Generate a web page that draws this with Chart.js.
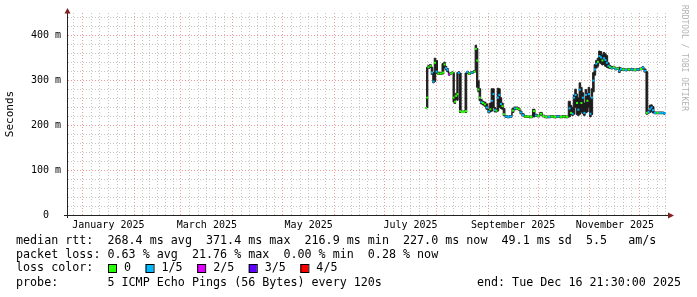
<!DOCTYPE html>
<html lang="en">
<head>
<meta charset="UTF-8">
<title>Median RTT</title>
<script src="https://cdn.jsdelivr.net/npm/chart.js@4.4.1/dist/chart.umd.min.js"></script>
<style>
  html, body { margin: 0; padding: 0; background: #fff; }
  canvas { display: block; }
</style>
</head>
<body>
<canvas id="rtt" width="697" height="297"></canvas>
<script>
// x values are days since 2025-01-01, y values in ms
const day = [205.8, 206.5, 207.3, 208.5, 209.4, 210.3, 211.2, 212.1, 213.3, 214.8,
  216.0, 216.9, 217.8, 218.7, 219.7, 220.8, 221.7, 222.3, 223.2, 223.9,
  224.7, 225.4, 226.3, 227.4, 228.6, 229.8, 230.6, 231.8, 233.3, 234.8,
  235.7, 236.5, 237.2, 238.1, 239.0, 239.9, 241.1, 242.3, 243.5, 244.4,
  245.3, 246.2, 247.1, 248.0, 248.9, 249.8, 250.7, 251.6, 252.5, 253.7,
  255.2, 256.7, 257.9, 259.1, 260.3, 261.5, 262.7, 263.9, 265.4, 266.9,
  268.7, 270.5, 271.7, 273.2, 274.7, 276.2, 277.7, 279.5, 281.3, 283.1,
  284.9, 286.7, 288.5, 290.3, 291.8, 292.7, 293.6, 294.5, 295.4, 296.3,
  297.1, 298.0, 298.9, 299.8, 300.7, 301.6, 302.5, 303.4, 304.3, 305.2,
  306.1, 307.0, 307.9, 308.8, 309.7, 310.6, 311.5, 312.4, 313.3, 314.2,
  315.1, 316.0, 317.2, 318.4, 319.6, 320.8, 321.7, 322.6, 324.1, 325.6,
  327.4, 329.2, 331.0, 332.8, 334.6, 335.8, 337.0, 338.2, 339.1, 340.0,
  340.9, 341.8, 343.0, 344.5, 346.0, 347.5, 349.0];

const median = [239, 262, 330, 333, 318, 298, 340, 320, 316, 316,
  318, 336, 328, 324, 314, 316, 318, 262, 253, 266,
  270, 317, 232, 230, 230, 232, 319, 316, 318, 320,
  371, 345, 280, 262, 252, 250, 247, 240, 231, 236,
  255, 270, 234, 233, 262, 268, 248, 243, 225, 220,
  219, 220, 233, 238, 238, 236, 229, 223, 220, 220,
  219, 232, 222, 221, 226, 221, 219, 219, 220, 219,
  220, 219, 220, 219, 238, 228, 226, 262, 268, 250,
  235, 280, 250, 262, 228, 268, 255, 270, 226, 262,
  300, 325, 338, 342, 355, 352, 345, 350, 346, 340,
  333, 330, 328, 330, 326, 327, 322, 326, 325, 324,
  325, 325, 324, 325, 326, 329, 322, 228, 230, 236,
  240, 234, 228, 228, 228, 228, 227];

const low = [237, 240, 327, 329, 314, 295, 298, 316, 314, 314,
  315, 328, 324, 320, 312, 314, 316, 252, 249, 258,
  256, 314, 229, 229, 229, 229, 316, 314, 316, 318,
  322, 285, 275, 255, 248, 246, 243, 236, 228, 230,
  232, 240, 230, 230, 232, 240, 238, 236, 222, 218,
  217, 218, 229, 235, 236, 234, 226, 221, 218, 218,
  217, 219, 220, 219, 223, 219, 217, 217, 218, 217,
  218, 217, 218, 217, 219, 224, 222, 225, 240, 224,
  222, 225, 230, 226, 222, 228, 230, 240, 219, 224,
  275, 312, 328, 332, 340, 338, 335, 336, 332, 330,
  328, 327, 326, 328, 324, 325, 318, 323, 323, 322,
  323, 323, 322, 323, 324, 326, 319, 225, 227, 229,
  231, 228, 226, 226, 226, 226, 225];

const high = [241, 330, 334, 336, 330, 318, 350, 345, 319, 318,
  338, 341, 332, 327, 317, 318, 320, 318, 262, 272,
  318, 320, 317, 232, 232, 317, 321, 318, 320, 322,
  379, 372, 300, 282, 258, 254, 252, 248, 236, 250,
  282, 282, 240, 237, 283, 282, 262, 250, 238, 222,
  221, 222, 238, 241, 241, 239, 232, 226, 222, 221,
  221, 236, 225, 223, 229, 223, 221, 221, 222, 221,
  222, 221, 222, 221, 254, 245, 240, 268, 281, 270,
  262, 295, 285, 273, 250, 280, 272, 285, 262, 282,
  318, 336, 345, 350, 366, 365, 358, 363, 360, 356,
  340, 334, 331, 332, 328, 329, 330, 328, 327, 326,
  327, 327, 326, 327, 328, 331, 326, 320, 233, 245,
  246, 242, 230, 230, 230, 230, 229];

// lost pings out of 5 for each step
const loss = [0, 0, 0, 0, 1, 1, 0, 1, 0, 0,
  0, 0, 1, 1, 2, 0, 0, 0, 0, 0,
  0, 1, 0, 0, 0, 0, 1, 0, 1, 0,
  0, 0, 0, 0, 1, 0, 0, 1, 1, 0,
  1, 1, 1, 0, 1, 1, 1, 0, 0, 1,
  1, 1, 0, 1, 0, 0, 1, 1, 0, 0,
  0, 0, 1, 0, 0, 0, 0, 1, 0, 0,
  1, 0, 0, 0, 1, 0, 1, 1, 1, 0,
  1, 1, 0, 1, 1, 1, 0, 1, 1, 1,
  1, 1, 1, 0, 1, 1, 0, 1, 1, 1,
  1, 0, 1, 0, 1, 0, 1, 1, 0, 1,
  0, 1, 0, 1, 0, 1, 1, 0, 1, 1,
  1, 1, 1, 0, 1, 1, 1];

const lossLabels = ['0', '1/5', '2/5', '3/5', '4/5'];
const lossColors = ['#26ff00', '#00b8ff', '#e100ff', '#5e00ff', '#ff0000'];

// month starts (days since 2025-01-01) and names
const monthStarts = [-31, 0, 31, 59, 90, 120, 151, 181, 212, 243, 273, 304, 334, 365];
const monthNames = ['December 2024', 'January 2025', 'February 2025', 'March 2025', 'April 2025',
  'May 2025', 'June 2025', 'July 2025', 'August 2025', 'September 2025', 'October 2025',
  'November 2025', 'December 2025'];
const labelledMonths = ['January 2025', 'March 2025', 'May 2025', 'July 2025', 'September 2025', 'November 2025'];

const yLabelled = [0, 100, 200, 300, 400];
const yMinorStep = 20;
const yMax = 451;
const xMin = -9.3, xMax = 350.8;

const statLines = [
  'median rtt:  268.4 ms avg  371.4 ms max  216.9 ms min  227.0 ms now  49.1 ms sd  5.5   am/s',
  'packet loss: 0.63 % avg  21.76 % max  0.00 % min  0.28 % now'
];
const probeText = 'probe:       5 ICMP Echo Pings (56 Bytes) every 120s';
const endText = 'end: Tue Dec 16 21:30:00 2025';

// x grid: red at each month start, grey at sixths, label in the middle
const xTicks = [];
const xMajor = [];
const xLabels = {};
for (let i = 0; i < monthStarts.length - 1; i++) {
  const a = monthStarts[i], b = monthStarts[i + 1];
  for (let k = 0; k < 6; k++) {
    const v = a + k * (b - a) / 6;
    if (v <= xMin || v >= xMax) continue;
    xTicks.push(v);
    if (k === 0) xMajor.push(v);
    if (k === 3 && labelledMonths.includes(monthNames[i])) xLabels[v] = monthNames[i];
  }
}
const yTicks = [];
for (let v = 0; v < yMax; v += yMinorStep) yTicks.push(v);

const minorGrid = 'rgba(150,150,150,0.55)';
const majorGrid = 'rgba(235,80,80,0.6)';
const smoke = '#1c1c1c';
const mono = 'DejaVu Sans Mono';

const isMajorX = v => xMajor.some(m => Math.abs(m - v) < 1e-6);

const extras = {
  id: 'extras',
  afterDraw(chart) {
    const ctx = chart.ctx;
    const a = chart.chartArea;
    ctx.save();
    // axis stubs + arrows
    ctx.strokeStyle = '#222';
    ctx.lineWidth = 1;
    ctx.beginPath();
    ctx.moveTo(a.left + 0.5, a.bottom);
    ctx.lineTo(a.left + 0.5, a.bottom + 3);
    ctx.moveTo(a.left - 3, a.bottom + 0.5);
    ctx.lineTo(a.left, a.bottom + 0.5);
    ctx.stroke();
    ctx.fillStyle = '#7f1f1f';
    ctx.beginPath();
    ctx.moveTo(a.left - 2.5, a.top + 0.5);
    ctx.lineTo(a.left + 3.5, a.top + 0.5);
    ctx.lineTo(a.left + 0.5, a.top - 5);
    ctx.closePath();
    ctx.fill();
    ctx.beginPath();
    ctx.moveTo(a.right, a.bottom - 2.5);
    ctx.lineTo(a.right, a.bottom + 3.5);
    ctx.lineTo(a.right + 6, a.bottom + 0.5);
    ctx.closePath();
    ctx.fill();

    // watermark
    ctx.save();
    ctx.translate(684, 5);
    ctx.rotate(Math.PI / 2);
    ctx.font = '8px "' + mono + '"';
    ctx.fillStyle = '#b4b4b4';
    ctx.textBaseline = 'middle';
    ctx.fillText('RRDTOOL / TOBI OETIKER', 0, 0);
    ctx.restore();

    // legend text
    ctx.font = '11.7px "' + mono + '"';
    ctx.fillStyle = '#000';
    ctx.textBaseline = 'middle';
    ctx.fillText(statLines[0], 16, 241);
    ctx.fillText(statLines[1], 16, 255);
    ctx.fillText('loss color:', 16, 268);
    let bx = 108;
    lossLabels.forEach((lab, i) => {
      ctx.fillStyle = lossColors[i];
      ctx.fillRect(bx, 264, 8, 9);
      ctx.strokeStyle = '#000';
      ctx.strokeRect(bx + 0.5, 264.5, 8, 8);
      ctx.fillStyle = '#000';
      ctx.fillText(lab, bx + 16, 268);
      bx = bx + 16 + ctx.measureText(lab).width + 14.5;
    });
    ctx.fillText(probeText, 16, 283);
    ctx.textAlign = 'right';
    ctx.fillText(endText, 681, 283);
    ctx.restore();
  }
};

const pts = arr => arr.map((v, i) => ({ x: day[i], y: v }));

new Chart(document.getElementById('rtt'), {
  type: 'line',
  data: {
    datasets: [
      {
        // smoke: spread of the pings
        data: pts(high),
        order: 2,
        stepped: 'middle',
        borderColor: smoke,
        borderWidth: 1,
        backgroundColor: smoke,
        pointRadius: 0,
        fill: '+1'
      },
      {
        data: pts(low),
        order: 2,
        stepped: 'middle',
        borderColor: smoke,
        borderWidth: 1,
        pointRadius: 0,
        fill: false
      },
      {
        // median, coloured by loss
        data: pts(median),
        order: 0,
        showLine: false,
        pointStyle: 'line',
        pointBorderWidth: 2,
        pointBorderColor: c => lossColors[loss[c.dataIndex]],
        pointBackgroundColor: c => lossColors[loss[c.dataIndex]],
        pointRadius: c => {
          const i = c.dataIndex;
          const xs = c.chart.scales.x;
          const p0 = xs.getPixelForValue(day[Math.max(i - 1, 0)]);
          const p1 = xs.getPixelForValue(day[Math.min(i + 1, day.length - 1)]);
          return Math.max(1, (p1 - p0) / 4);
        }
      }
    ]
  },
  options: {
    responsive: false,
    animation: false,
    events: [],
    layout: { padding: { top: 13, right: 29, bottom: 0, left: 0 } },
    plugins: { legend: { display: false }, tooltip: { enabled: false } },
    scales: {
      x: {
        type: 'linear',
        min: xMin,
        max: xMax,
        afterFit: s => { s.height = 82; },
        afterBuildTicks: s => { s.ticks = xTicks.map(v => ({ value: v })); },
        grid: {
          color: c => (c.tick && isMajorX(c.tick.value)) ? majorGrid : minorGrid,
          drawTicks: false
        },
        border: { display: true, color: '#222', width: 1, dash: [1, 2] },
        ticks: {
          autoSkip: false,
          maxRotation: 0,
          padding: 4,
          color: '#000',
          font: { family: mono, size: 10 },
          callback: v => xLabels[v] || ''
        }
      },
      y: {
        type: 'linear',
        min: 0,
        max: yMax,
        afterFit: s => { s.width = 67; },
        afterBuildTicks: s => { s.ticks = yTicks.map(v => ({ value: v })); },
        grid: {
          color: c => (c.tick && c.tick.value % 100 === 0) ? majorGrid : minorGrid,
          drawTicks: false
        },
        border: { display: true, color: '#222', width: 1, dash: [1, 2] },
        title: {
          display: true,
          text: 'Seconds',
          color: '#000',
          font: { family: mono, size: 11 },
          padding: { top: 4, bottom: 0 }
        },
        ticks: {
          autoSkip: false,
          padding: 6,
          color: '#000',
          font: { family: mono, size: 10 },
          callback: v => yLabelled.includes(v) ? (v === 0 ? '0  ' : v + ' m') : ''
        }
      }
    }
  },
  plugins: [extras]
});
</script>
</body>
</html>
